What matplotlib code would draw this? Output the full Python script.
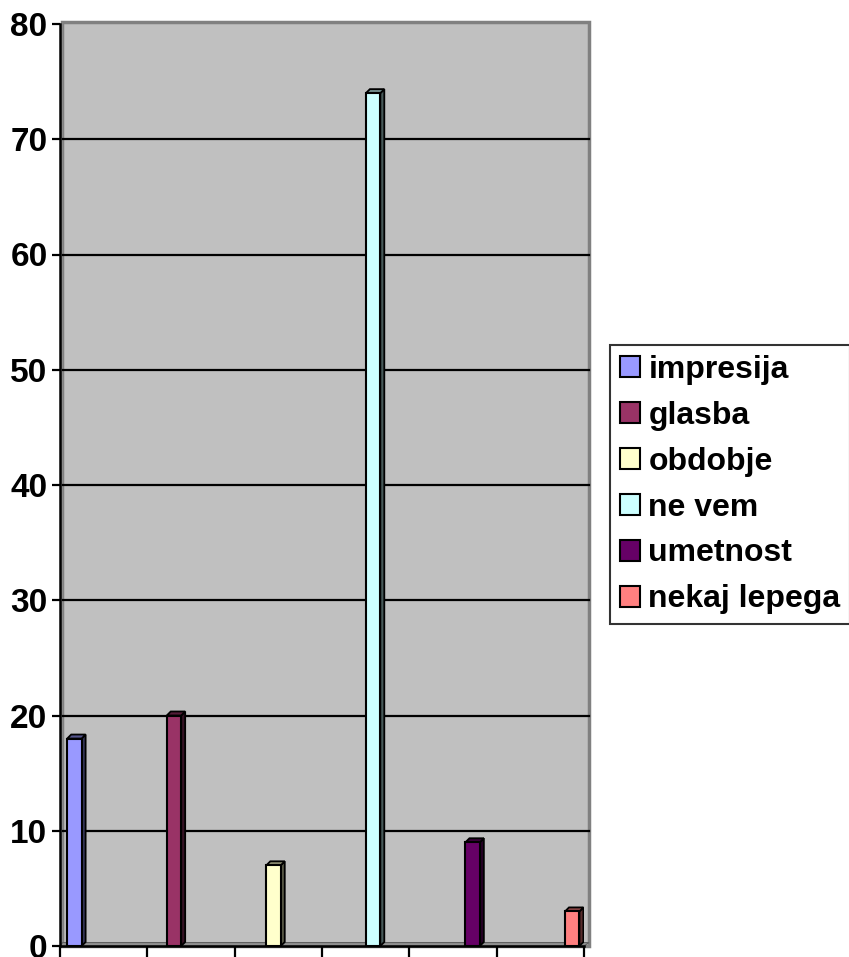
import numpy as np
import matplotlib.pyplot as plt
from matplotlib.patches import Polygon, Rectangle, Patch
from matplotlib.colors import to_rgb

# Data
labels = ['impresija', 'glasba', 'obdobje', 'ne vem', 'umetnost', 'nekaj lepega']
values = [18, 20, 7, 74, 9, 3]
colors = ['#9999FF', '#993366', '#FFFFCC', '#CCFFFF', '#660066', '#FF8080']
yticks = [0, 10, 20, 30, 40, 50, 60, 70, 80]

plt.rcParams['font.family'] = ['Liberation Sans', 'DejaVu Sans']

fig = plt.figure(figsize=(8.49, 9.57), dpi=100)
ax = fig.add_axes([60 / 849, 11 / 957, 524 / 849, 922 / 957])
ax.set_xlim(0, 6)
ax.set_ylim(0, 80)
ax.set_facecolor('none')

# 3D depth offsets in data units (~5 px)
dx = 5 / 87.3
dy = 2 / 11.5

# back wall and floor
wall = Rectangle((0.02, 0), 6 + dx - 0.02, 80 + dy, facecolor='#C0C0C0',
                 edgecolor='#808080', linewidth=2.5, clip_on=False, zorder=0)
ax.add_patch(wall)
side = Polygon([(0, 0), (0.03, 0.3), (0.03, 80 + dy), (0, 80)], closed=True,
               facecolor='#909090', edgecolor='none', clip_on=False, zorder=0.5)
ax.add_patch(side)
floor = Polygon([(0, 0), (6, 0), (6 + dx, 0.3), (0.03, 0.3)], closed=True,
                facecolor='#909090', edgecolor='#606060', linewidth=0.8,
                clip_on=False, zorder=0.5)
ax.add_patch(floor)

# gridlines
for y in yticks[1:-1]:
    ax.plot([0.04, 6 + dx], [y, y], color='black', linewidth=1.6, zorder=1, clip_on=False)

# bars with 3D faces
pos = np.linspace(0.165, 5.865, len(values))
w = 0.165
bdx = 4 / 87.3
bdy = 4 / 11.5
for x, v, c in zip(pos, values, colors):
    rgb = np.array(to_rgb(c))
    dark = rgb * 0.35
    mid = rgb * 0.55
    l, r = x - w / 2, x + w / 2
    side_face = Polygon([(r, 0), (r + bdx, bdy), (r + bdx, v + bdy), (r, v)], closed=True,
                        facecolor=dark, edgecolor='black', linewidth=1.3, zorder=3)
    top_face = Polygon([(l, v), (l + bdx, v + bdy), (r + bdx, v + bdy), (r, v)], closed=True,
                       facecolor=mid, edgecolor='black', linewidth=1.3, zorder=3)
    ax.add_patch(side_face)
    ax.add_patch(top_face)
    ax.bar(x, v, width=w, color=c, edgecolor='black', linewidth=1.5, zorder=4)

# axes
for s in ['top', 'right']:
    ax.spines[s].set_visible(False)
ax.spines['left'].set_linewidth(1.8)
ax.spines['bottom'].set_linewidth(1.8)
ax.spines['left'].set_zorder(5)
ax.spines['bottom'].set_zorder(5)

ax.set_yticks(yticks)
ax.set_yticklabels([str(t) for t in yticks], fontsize=24, fontweight='bold')
ax.set_xticks(np.arange(0, 7))
ax.set_xticklabels([])
ax.tick_params(axis='y', direction='out', length=6, width=1.6, pad=3)
ax.tick_params(axis='x', direction='out', length=8, width=1.6)

# legend
handles = [Patch(facecolor=c, edgecolor='black', linewidth=1.5) for c in colors]
leg = fig.legend(handles, labels, loc='upper left', bbox_to_anchor=(610 / 849, 1 - 345 / 957),
                 prop={'size': 23, 'weight': 'bold'}, frameon=True, fancybox=False,
                 handlelength=0.65, handleheight=0.65, handletextpad=0.25,
                 labelspacing=0.5, borderpad=0.3, borderaxespad=0)
leg.get_frame().set_edgecolor('black')
leg.get_frame().set_linewidth(1.5)

fig.savefig('out.png', dpi=100)
